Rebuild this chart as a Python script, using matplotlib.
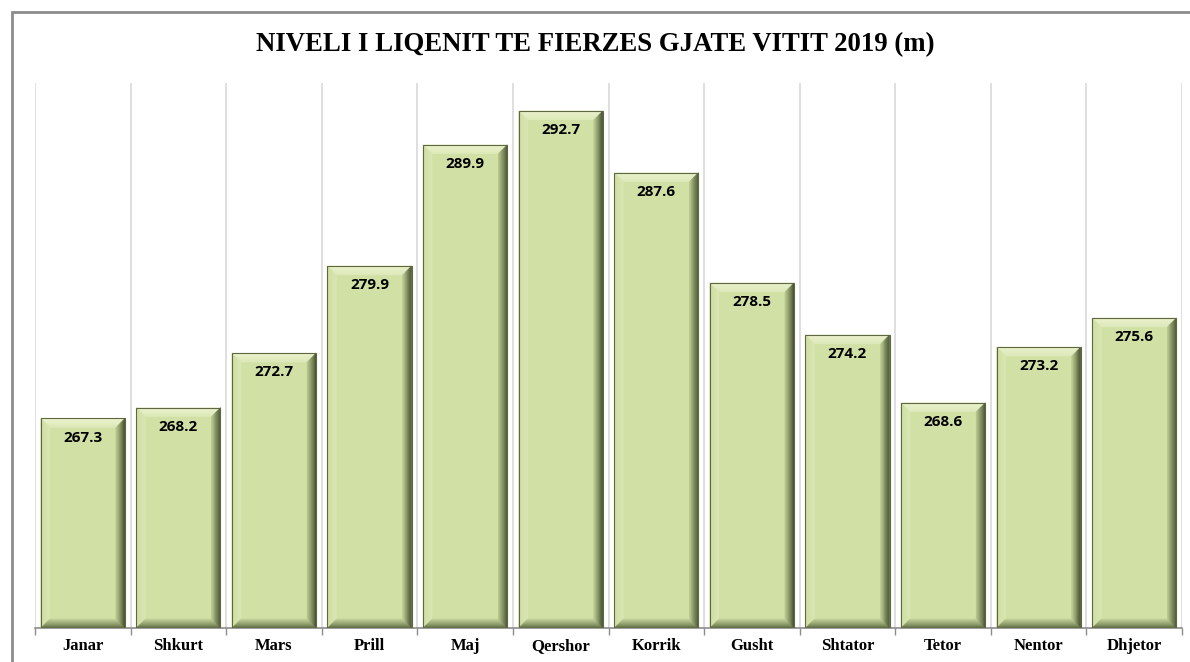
import numpy as np
import matplotlib.pyplot as plt
from matplotlib.patches import Polygon, Rectangle
from matplotlib.colors import to_rgb

months = ['Janar', 'Shkurt', 'Mars', 'Prill', 'Maj', 'Qershor', 'Korrik',
          'Gusht', 'Shtator', 'Tetor', 'Nentor', 'Dhjetor']
levels = [267.3, 268.2, 272.7, 279.9, 289.9, 292.7, 287.6, 278.5, 274.2,
          268.6, 273.2, 275.6]

fig = plt.figure(figsize=(11.9, 6.62), dpi=100)
ax = fig.add_axes([0.0294, 0.0514, 0.9639, 0.8232])
ymin, ymax = 250, 295
ax.set_xlim(-0.5, len(months) - 0.5)
ax.set_ylim(ymin, ymax)

# outer frame
fig.patches.append(Rectangle((0.0101, -0.1), 1.2, 0.9819 + 0.1, transform=fig.transFigure,
                             fill=False, edgecolor='#8c8c8c', linewidth=2, zorder=0))

# bevel sizes in data units (~9 px)
ax_w = 0.9639 * 1190
ax_h = 0.8232 * 662
bx = 9 * len(months) / ax_w
by = 9 * (ymax - ymin) / ax_h


def mix(c1, c2, f):
    a, b = np.array(to_rgb(c1)), np.array(to_rgb(c2))
    return tuple(a + (b - a) * f)


# (outer colour, inner colour) for each bevel side
bevel = {'top': ('#eef4d2', '#dde9ba'),
         'left': ('#cfdea2', '#dbe7b4'),
         'right': ('#3f482b', '#bccb90'),
         'bottom': ('#5a653e', '#c3d399')}
nstrip = 10

width = 0.88
x = np.arange(len(months))
for xi, v in zip(x, levels):
    l, r = xi - width / 2, xi + width / 2
    b, t = ymin, v
    ax.add_patch(Rectangle((l, b), width, t - b, facecolor='#d1e1a6', edgecolor='none', zorder=3))
    for k in range(nstrip):
        d0, d1 = k / nstrip, (k + 1) / nstrip
        f = (k + 0.5) / nstrip
        o0 = (l + d0 * bx, r - d0 * bx, b + d0 * by, t - d0 * by)
        o1 = (l + d1 * bx, r - d1 * bx, b + d1 * by, t - d1 * by)
        sides = {
            'top': [(o0[0], o0[3]), (o0[1], o0[3]), (o1[1], o1[3]), (o1[0], o1[3])],
            'left': [(o0[0], o0[3]), (o1[0], o1[3]), (o1[0], o1[2]), (o0[0], o0[2])],
            'right': [(o0[1], o0[3]), (o1[1], o1[3]), (o1[1], o1[2]), (o0[1], o0[2])],
            'bottom': [(o0[0], o0[2]), (o1[0], o1[2]), (o1[1], o1[2]), (o0[1], o0[2])],
        }
        for name, pts in sides.items():
            c = mix(bevel[name][0], bevel[name][1], f)
            ax.add_patch(Polygon(pts, facecolor=c, edgecolor=c, linewidth=0.3, zorder=4))
    ax.add_patch(Polygon([(l, b), (l, t), (r, t), (r, b)], closed=True, fill=False,
                         edgecolor='#5d6840', linewidth=0.8, zorder=5))
    ax.text(xi, v - 1.6, f'{v:.1f}', ha='center', va='center', fontsize=11,
            fontweight='bold', family='Open Sans', color='black', zorder=6)

# vertical gridlines at category boundaries
bounds = np.arange(len(months) + 1) - 0.5
for bnd in bounds:
    ax.axvline(bnd, color='#d9d9d9', linewidth=1.2, zorder=1)

ax.set_xticks(bounds)
ax.set_xticklabels([])
ax.set_xticks(x, minor=True)
ax.set_xticklabels(months, minor=True, fontsize=12, fontweight='bold',
                   family='Liberation Serif')
ax.tick_params(axis='x', which='major', length=5, color='#8c8c8c', width=1)
ax.tick_params(axis='x', which='minor', length=0, pad=7.5)
ax.set_yticks([])
for s in ['top', 'right', 'left']:
    ax.spines[s].set_visible(False)
ax.spines['bottom'].set_color('#8c8c8c')
ax.spines['bottom'].set_linewidth(1.2)

fig.text(0.5, 0.932, 'NIVELI I LIQENIT TE FIERZES GJATE VITIT 2019 (m)', ha='center',
         va='center', fontsize=19.3, fontweight='bold', family='Liberation Serif')

fig.savefig('out.png', dpi=100)
